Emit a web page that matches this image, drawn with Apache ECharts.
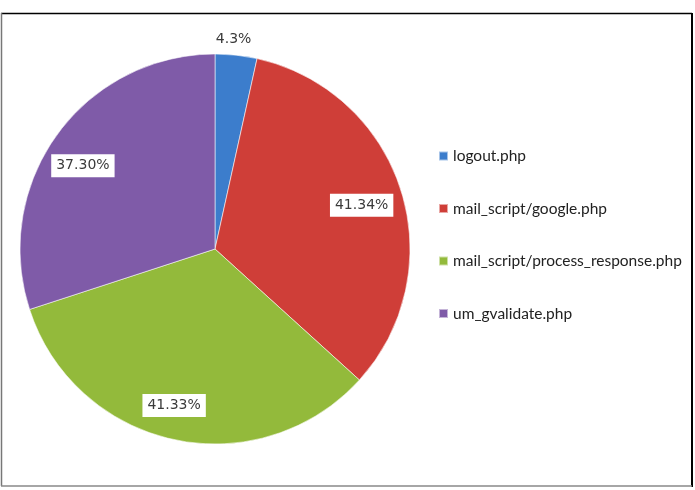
<!DOCTYPE html>
<html><head><meta charset="utf-8">
<script src="https://cdn.jsdelivr.net/npm/echarts@6/dist/echarts.min.js"></script>
<style>html,body{margin:0;padding:0;background:#fff}#c{width:695px;height:490px}</style>
</head><body><div id="c"></div>
<script>
const categories = ['logout.php','mail_script/google.php','mail_script/process_response.php','um_gvalidate.php'];
const values = [4.3, 41.34, 41.33, 37.30];
const labelTexts = ['4.3%', '41.34%', '41.33%', '37.30%'];
const colors = ['#3c7dcc', '#cf3e38', '#93ba3b', '#7f5ba8'];

const chart = echarts.init(document.getElementById('c'));
const center = [215, 249];
const R = 195;
const labelOffsets = [[-31,-10], [-3,4], [-8,3], [-5,9]];
const baseData = categories.map((n,i)=>({name:n, value:values[i], itemStyle:{color:colors[i]}}));
const labelData = categories.map((n,i)=>{
  const d = {name:n, value:values[i], label:{offset:labelOffsets[i]}};
  if (i === 0) {
    d.label.position = 'outside';
    d.labelLine = {show:false, length:6, length2:0};
  }
  return d;
});
chart.setOption({
  animation:false,
  legend:{
    orient:'vertical', left:438, top:148, padding:0,
    itemWidth:9, itemHeight:9, itemGap:36.5, icon:'rect',
    textStyle:{fontFamily:'Lato', fontSize:15.5, color:'#222', lineHeight:16},
    data:categories
  },
  graphic:[
    {type:'line', shape:{x1:1, y1:13.5, x2:692, y2:13.5}, style:{stroke:'#000', lineWidth:1.5}},
    {type:'line', shape:{x1:692, y1:13, x2:692, y2:487}, style:{stroke:'#000', lineWidth:2}},
    {type:'line', shape:{x1:1.5, y1:13, x2:1.5, y2:486}, style:{stroke:'#777', lineWidth:1.5}},
    {type:'line', shape:{x1:1, y1:486, x2:692, y2:486}, style:{stroke:'#888', lineWidth:1.5}}
  ],
  series:[
    {
      type:'pie', center:center, radius:R, startAngle:90, clockwise:true,
      label:{show:false}, labelLine:{show:false},
      itemStyle:{borderColor:'rgba(255,255,255,0.55)', borderWidth:1},
      emphasis:{disabled:true},
      data:baseData
    },
    {
      type:'pie', center:center, radius:[R*0.58, R], startAngle:90, clockwise:true,
      silent:true, legendHoverLink:false,
      itemStyle:{color:'rgba(0,0,0,0)'},
      label:{
        show:true, position:'inside',
        formatter:p=>labelTexts[p.dataIndex],
        fontFamily:'DejaVu Sans', fontSize:14, color:'#3a3a3a',
        backgroundColor:'#fff', padding:[5,5,4,5]
      },
      emphasis:{disabled:true},
      data:labelData
    }
  ]
});
</script></body></html>
